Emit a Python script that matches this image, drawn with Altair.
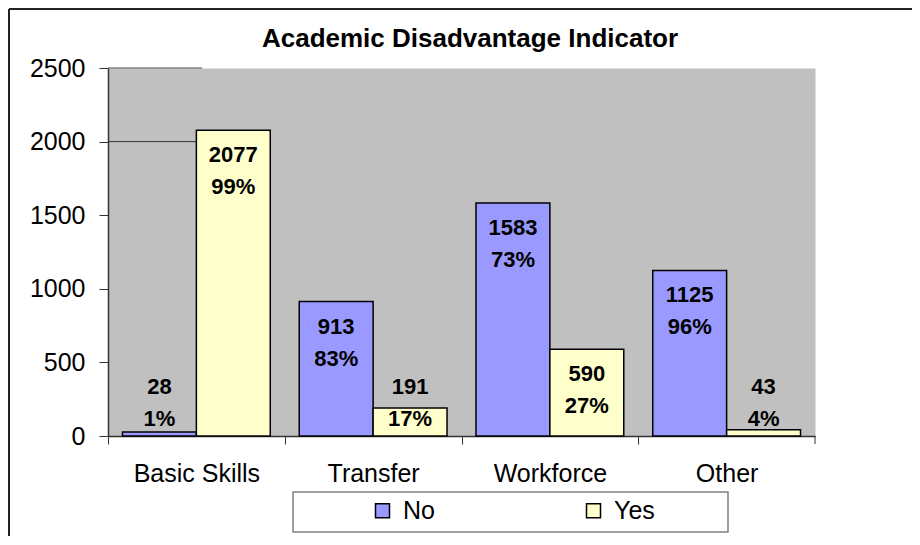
import altair as alt
import pandas as pd

categories = ["Basic Skills", "Transfer", "Workforce", "Other"]
series = ["No", "Yes"]
no_counts = [28, 913, 1583, 1125]
yes_counts = [2077, 191, 590, 43]
no_pct = ["1%", "83%", "73%", "96%"]
yes_pct = ["99%", "17%", "27%", "4%"]
y_ticks = [0, 500, 1000, 1500, 2000, 2500]
colors = ["#9999FF", "#FFFFCC"]
title_text = "Academic Disadvantage Indicator"

rows = []
for c, n, p in zip(categories, no_counts, no_pct):
    rows.append({"category": c, "series": "No", "count": n, "pct": p})
for c, n, p in zip(categories, yes_counts, yes_pct):
    rows.append({"category": c, "series": "Yes", "count": n, "pct": p})
df = pd.DataFrame(rows)
df["anchor"] = df["count"].clip(lower=500)

one = pd.DataFrame({"k": [0]})
FONT = "Liberation Sans"
W, H = 707, 368
step = W / len(categories)

x_enc = alt.X(
    "category:N",
    sort=categories,
    scale=alt.Scale(paddingInner=0, paddingOuter=0),
    axis=alt.Axis(
        title=None, labelAngle=0, labelFont=FONT, labelFontSize=25,
        labelColor="black", tickSize=8, tickColor="#333333", tickWidth=1,
        tickOffset=-step / 2, labelOffset=step / 2, labelPadding=17,
        domainColor="#333333", domainWidth=1.5,
    ),
)
xo_enc = alt.XOffset("series:N", sort=series, scale=alt.Scale(paddingOuter=0.196, paddingInner=0))
y_scale = alt.Scale(domain=[0, 2500], nice=False)

bars = alt.Chart(df).mark_bar(stroke="black", strokeWidth=1.5).encode(
    x=x_enc,
    xOffset=xo_enc,
    y=alt.Y(
        "count:Q", scale=y_scale,
        axis=alt.Axis(
            title=None, values=y_ticks, format="d", grid=False, labelFont=FONT,
            labelFontSize=25, labelColor="black", tickSize=9, tickColor="#333333",
            labelPadding=14, domainColor="#333333", domainWidth=1.5,
        ),
    ),
    color=alt.Color(
        "series:N",
        scale=alt.Scale(domain=series, range=colors),
        legend=alt.Legend(
            title=None, orient="none", legendX=262, legendY=430, direction="horizontal",
            symbolType="square", symbolSize=196, symbolStrokeColor="black",
            symbolStrokeWidth=1.5, labelFont=FONT, labelFontSize=25, labelColor="black",
            labelOffset=8, columnPadding=146, padding=0,
        ),
    ),
)

count_text = alt.Chart(df).mark_text(
    font=FONT, fontWeight="bold", fontSize=22, baseline="middle", dy=25, color="black"
).encode(x=alt.X("category:N", sort=categories), xOffset=alt.XOffset("series:N", sort=series),
         y=alt.Y("anchor:Q", scale=y_scale), text="count:Q")

pct_text = alt.Chart(df).mark_text(
    font=FONT, fontWeight="bold", fontSize=22, baseline="middle", dy=57, color="black"
).encode(x=alt.X("category:N", sort=categories), xOffset=alt.XOffset("series:N", sort=series),
         y=alt.Y("anchor:Q", scale=y_scale), text="pct:N")

grid2500 = alt.Chart(one).mark_rule(color="#808080", strokeWidth=1.5).encode(
    y=alt.Y(datum=2500, scale=y_scale), x=alt.value(0), x2=alt.value(94))
grid2000 = alt.Chart(one).mark_rule(color="#333333", strokeWidth=1).encode(
    y=alt.Y(datum=2000, scale=y_scale), x=alt.value(0), x2=alt.value(94))

end_tick = alt.Chart(one).mark_rule(color="#333333", strokeWidth=1).encode(
    x=alt.value(W), y=alt.value(H), y2=alt.value(H + 8))

legend_box = alt.Chart(one).mark_rect(fill="white", stroke="#808080", strokeWidth=1.5).encode(
    x=alt.value(185), x2=alt.value(620), y=alt.value(424), y2=alt.value(464))

frame_top = alt.Chart(one).mark_rule(color="#222222", strokeWidth=2).encode(
    x=alt.value(-99), x2=alt.value(804), y=alt.value(-59))
frame_left = alt.Chart(one).mark_rule(color="#222222", strokeWidth=2).encode(
    x=alt.value(-99), y=alt.value(-59), y2=alt.value(470))

title = alt.Chart(pd.DataFrame({"t": [title_text]})).mark_text(
    font=FONT, fontSize=26, fontWeight="bold", color="black", align="center",
    baseline="alphabetic",
).encode(x=alt.value(362), y=alt.value(-21), text="t:N")

chart = alt.layer(
    legend_box, frame_top, frame_left, grid2500, grid2000, bars, count_text, pct_text,
    end_tick, title,
).properties(
    width=W, height=H,
    autosize=alt.AutoSizeParams(type="none"),
    padding={"left": 100, "top": 60, "right": 97, "bottom": 100},
).configure_view(fill="#C0C0C0", stroke="transparent")

chart.save("out.html", embed_options={"renderer": "svg", "actions": False})
